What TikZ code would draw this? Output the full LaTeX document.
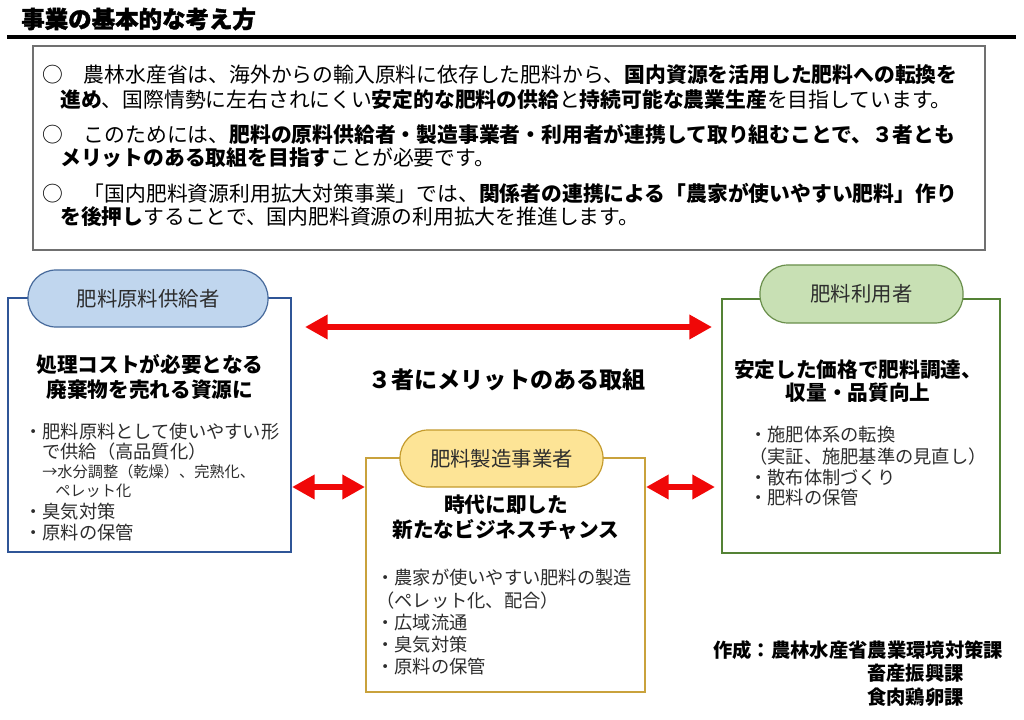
\documentclass[tikz,border=0pt]{standalone}
\usepackage{fontspec}
\setmainfont{Noto Sans CJK JP}
\newfontfamily\titlefont{Noto Sans CJK JP}[BoldFeatures={FakeBold=1.5}]
\usetikzlibrary{arrows.meta,fit,calc}
\definecolor{arrred}{RGB}{240,8,8}
\definecolor{bluefill}{RGB}{192,214,238}
\definecolor{blueline}{RGB}{70,105,155}
\definecolor{bluebox}{RGB}{47,85,151}
\definecolor{goldfill}{RGB}{253,228,150}
\definecolor{goldline}{RGB}{196,155,45}
\definecolor{goldbox}{RGB}{201,162,60}
\definecolor{greenfill}{RGB}{200,224,180}
\definecolor{greenline}{RGB}{106,143,76}
\definecolor{greenbox}{RGB}{84,130,53}
\definecolor{graybox}{RGB}{112,112,112}
\definecolor{bodytxt}{RGB}{45,45,45}
\tikzset{
  toptext/.style={anchor=west, inner sep=0pt, font=\fontsize{15.6}{18}\selectfont},
  bul/.style={anchor=west, inner sep=0pt, text=bodytxt, font=\fontsize{13.7}{16}\selectfont},
  bulsm/.style={anchor=west, inner sep=0pt, text=bodytxt, font=\fontsize{11.4}{13}\selectfont},
  head/.style={align=center, inner sep=0pt, font=\fontsize{15.5}{18.75}\selectfont\bfseries},
  pill/.style={rounded corners=21pt, inner sep=0pt, line width=0.9pt},
  pilllabel/.style={inner sep=0pt, text=bodytxt, font=\fontsize{15.3}{18}\selectfont},
  boxframe/.style={inner sep=0pt, line width=1.1pt},
  redarr/.style={draw=arrred, line width=5pt, {Triangle[length=17pt,width=17.5pt]}-{Triangle[length=17pt,width=17.5pt]}},
}
\begin{document}
\begin{tikzpicture}[x=0.75pt,y=-0.75pt]
\path[use as bounding box, fill=white] (0,0) rectangle (1024,720);

% title
\node[anchor=west, inner sep=0pt, font=\fontsize{17.6}{20}\titlefont\bfseries] (title) at (21,19) {事業の基本的な考え方};
\coordinate (ulL) at (7,37);
\coordinate (ulR) at (1016,37);
\draw[line width=2.3pt] (ulL) -- (ulR);

% intro box
\node[boxframe, draw=graybox, fit={(33,46) (985,250)}] (intro) {};
\node[toptext] (t1) at (42,75) {○　農林水産省は、海外からの輸入原料に依存した肥料から、\textbf{国内資源を活用した肥料への転換を}};
\node[toptext] (t2) at (60,100) {\textbf{進め}、国際情勢に左右されにくい\textbf{安定的な肥料の供給}と\textbf{持続可能な農業生産}を目指しています。};
\node[toptext] (t3) at (42,134) {○　このためには、\textbf{肥料の原料供給者・製造事業者・利用者が連携して取り組むことで、３者とも}};
\node[toptext] (t4) at (60,158) {\textbf{メリットのある取組を目指す}ことが必要です。};
\node[toptext] (t5) at (42,193) {○　「国内肥料資源利用拡大対策事業」では、\textbf{関係者の連携による「農家が使いやすい肥料」作り}};
\node[toptext] (t6) at (60,217) {\textbf{を後押し}することで、国内肥料資源の利用拡大を推進します。};

% left box: supplier
\node[boxframe, draw=bluebox, fit={(8,298) (291,552)}] (supbox) {};
\node[pill, draw=blueline, fill=bluefill, fit={(28,270) (268,327)}] (suppill) {};
\node[pilllabel] (suplabel) at (suppill.center) {肥料原料供給者};
\node[head] (suphead) at (150,377) {処理コストが必要となる\\廃棄物を売れる資源に};
\node[bul] (l1) at (24,432) {・肥料原料として使いやすい形};
\node[bul] (l2) at (42,452) {で供給（高品質化）};
\node[bulsm] (l3) at (42,472) {→水分調整（乾燥）、完熟化、};
\node[bulsm] (l4) at (55,491) {ペレット化};
\node[bul] (l5) at (24,512) {・臭気対策};
\node[bul] (l6) at (24,533) {・原料の保管};

% right box: user
\node[boxframe, draw=greenbox, fit={(722,299) (1000,553)}] (usebox) {};
\node[pill, draw=greenline, fill=greenfill, fit={(760,265) (963,323)}] (usepill) {};
\node[pilllabel] (uselabel) at (usepill.center) {肥料利用者};
\node[head, font=\fontsize{15.5}{16.8}\selectfont\bfseries] (usehead) at (858,381) {安定した価格で肥料調達、\\収量・品質向上};
\node[bul] (r1) at (749,435) {・施肥体系の転換};
\node[bul] (r2) at (749,457) {（実証、施肥基準の見直し）};
\node[bul] (r3) at (749,478) {・散布体制づくり};
\node[bul] (r4) at (749,498) {・肥料の保管};

% center box: manufacturer
\node[boxframe, draw=goldbox, fit={(366,458) (645,692)}] (mfgbox) {};
\node[pill, draw=goldline, fill=goldfill, fit={(400,430) (603,487)}] (mfgpill) {};
\node[pilllabel] (mfglabel) at (mfgpill.center) {肥料製造事業者};
\node[head] (mfghead) at (506,517) {時代に即した\\新たなビジネスチャンス};
\node[bul] (c1) at (376,578) {・農家が使いやすい肥料の製造};
\node[bul] (c2) at (376,601) {（ペレット化、配合）};
\node[bul] (c3) at (376,623) {・広域流通};
\node[bul] (c4) at (376,645) {・臭気対策};
\node[bul] (c5) at (376,667) {・原料の保管};

% middle label
\node[inner sep=0pt, font=\fontsize{17.3}{20}\selectfont\bfseries] (merit) at (507,380) {３者にメリットのある取組};

% arrows
\coordinate (topL) at (305,327);
\coordinate (topR) at (712,327);
\coordinate (midLa) at (292,487);
\coordinate (midLb) at (365,487);
\coordinate (midRa) at (646,487);
\coordinate (midRb) at (715,487);
\draw[redarr] (topL) -- (topR);
\draw[redarr] (midLa) -- (midLb);
\draw[redarr] (midRa) -- (midRb);

% credit
\node[anchor=west, inner sep=0pt, font=\fontsize{14.5}{16}\selectfont\bfseries] (cr1) at (713,650) {作成：農林水産省農業環境対策課};
\node[anchor=west, inner sep=0pt, font=\fontsize{14.5}{16}\selectfont\bfseries] (cr2) at (867,673) {畜産振興課};
\node[anchor=west, inner sep=0pt, font=\fontsize{14.5}{16}\selectfont\bfseries] (cr3) at (867,697) {食肉鶏卵課};
\end{tikzpicture}
\end{document}
